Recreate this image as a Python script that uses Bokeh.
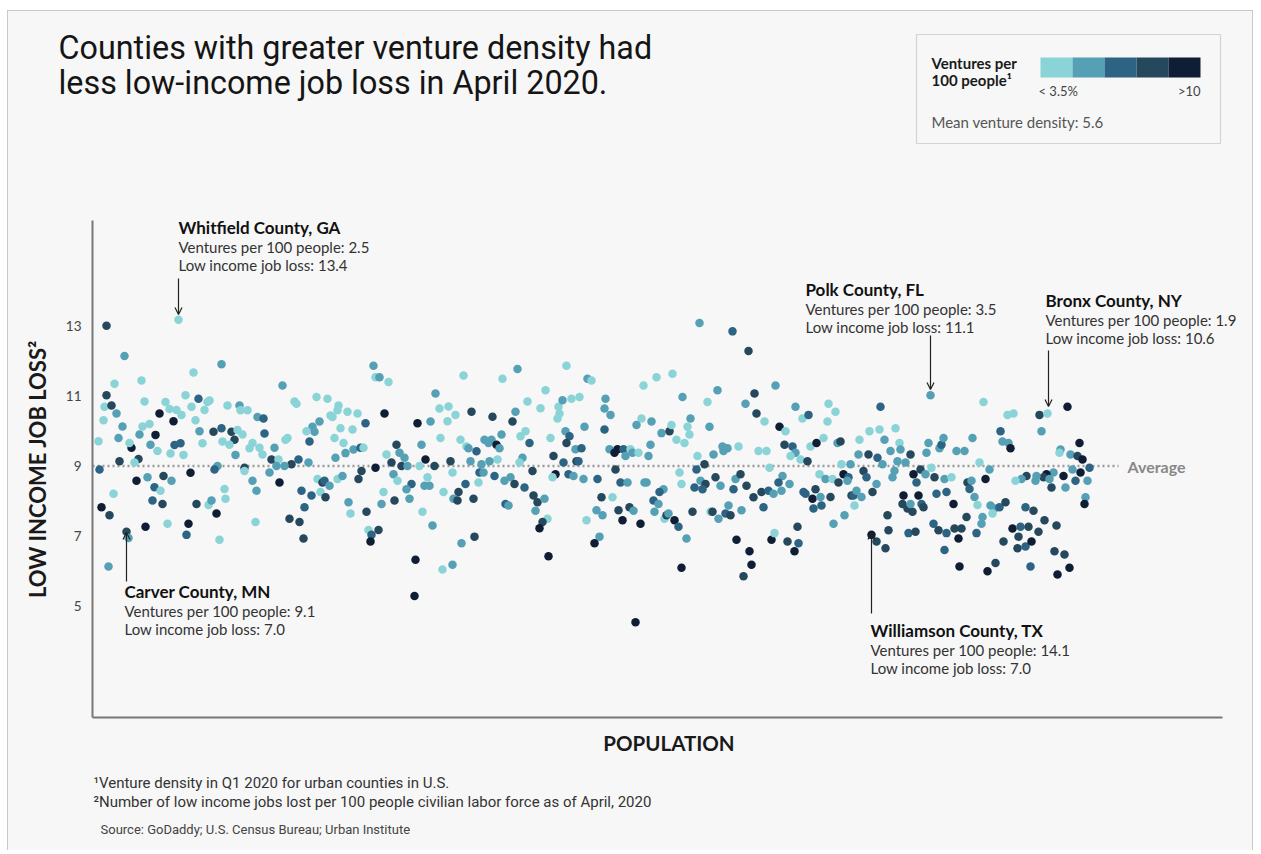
from bokeh.plotting import figure
from bokeh.models import (ColumnDataSource, Range1d, FixedTicker, Label, Arrow,
                          OpenHead, Segment)
from bokeh.layouts import column
from bokeh.embed import file_html
from bokeh.resources import INLINE

# ---------------- data ----------------
# population rank (relative position on the population axis)
pop = [106,178,124,221,193,114,141,106,104,111,116,103,122,98,118,131,129,119,99,138,134,144,139,142,149,155,159,150,157,165,169,173,176,181,185,191,198,195,207,204,209,199,202,174,180,170,183,213,221,231,234,222,229,227,239,240,247,237,242,235,249,257,263,264,252,259,262,244,244,217,214,190,163,171,147,136,154,160,113,152,162,196,208,211,224,225,252,256,101,109,145,167,188,186,216,219,255,126,128,108,
373,375,379,388,282,294,296,316,327,338,337,330,332,347,357,319,312,314,306,309,340,352,365,384,417,430,435,287,285,334,343,274,345,353,360,363,335,271,278,298,291,308,276,284,269,279,375,361,358,386,396,399,404,391,401,407,419,425,421,434,393,397,427,424,429,411,406,409,383,381,394,317,322,324,329,320,325,337,342,301,311,304,348,350,366,422,432,289,299,303,368,371,378,370,415,414,
566,587,591,517,463,502,545,439,448,455,447,471,492,512,515,527,540,558,562,571,579,605,559,557,584,604,604,440,460,466,468,476,484,488,491,496,499,501,520,525,529,522,519,497,489,481,470,450,452,479,483,494,532,504,510,514,524,478,465,458,443,453,457,473,505,508,533,537,544,535,553,550,565,569,566,575,581,563,576,578,555,552,568,573,583,597,601,596,602,586,599,594,547,542,539,548,474,461,452,442,
699,732,748,672,656,643,682,717,707,754,745,756,764,775,610,641,636,651,661,669,671,690,687,689,676,684,709,650,648,609,614,617,623,630,632,625,638,615,697,713,722,723,727,738,758,766,704,696,679,681,620,627,644,646,700,705,702,694,715,720,733,735,740,746,769,612,663,659,653,658,654,629,618,633,622,640,664,666,668,674,678,686,692,710,712,718,725,730,728,741,753,761,768,773,763,736,749,751,743,771,774,681,635,
930,880,795,802,808,828,835,827,779,785,784,792,795,790,800,807,810,816,823,837,840,859,869,879,895,884,899,890,900,858,868,877,897,905,910,926,928,939,941,943,841,850,882,920,931,782,778,789,781,819,825,832,838,843,848,847,863,866,876,872,892,894,913,916,925,934,944,803,805,815,812,813,820,821,830,851,853,856,861,854,844,833,903,902,907,912,910,918,921,923,936,946,887,888,908,915,933,938,946,871,876,885,797,787,798,794,944,
983,1007,1013,1039,1047,1067,1041,1000,1002,1008,1010,972,956,964,979,989,985,1060,1059,1070,1079,1077,1082,1072,1089,1080,1087,1075,1065,1063,1053,1046,1043,1049,1051,1036,1035,1026,1021,1015,951,967,971,969,974,977,953,966,990,994,999,1005,992,982,981,976,954,961,958,959,987,995,1003,1025,1033,1012,1020,1028,1018,1017,1025,1031,1038,1044,1056,1030,1054,1064,1057,1069,1085,1084]

# low income job loss per 100 people
job_loss = [13.0,13.17,12.14,11.9,11.67,11.35,11.44,11.02,10.69,10.73,10.5,10.31,10.13,9.71,9.8,9.52,9.66,9.14,8.9,9.2,9.1,10.84,9.9,10.13,10.2,9.89,10.5,9.61,9.43,10.83,10.63,10.28,10.6,10.46,11.02,10.69,10.92,10.31,10.83,10.6,10.87,9.99,9.65,9.6,9.65,9.36,9.32,9.98,10.08,9.98,9.75,9.7,9.61,10.73,10.73,10.59,10.59,10.03,9.9,9.32,9.51,10.4,10.36,9.93,9.66,9.52,9.33,8.95,8.86,9.0,8.9,8.81,8.72,8.58,8.68,8.58,8.4,8.3,8.21,8.02,7.92,7.92,7.89,8.02,8.35,8.07,8.58,8.3,7.83,7.6,7.27,7.36,7.36,7.04,7.65,6.9,7.41,7.13,6.95,6.14,
11.86,11.53,11.53,11.4,11.3,10.84,10.78,10.97,10.92,10.73,10.59,10.44,10.4,10.55,10.5,10.27,10.12,9.98,9.99,9.7,10.08,10.04,10.22,10.5,10.22,10.27,11.07,9.8,9.75,9.8,9.66,9.52,9.37,9.47,9.52,9.52,9.24,9.19,9.19,9.19,9.05,9.1,9.0,9.0,8.82,8.53,8.95,8.86,8.63,9.33,9.61,9.38,9.24,9.1,9.0,9.0,9.0,9.19,9.61,9.0,8.77,8.58,8.68,8.44,8.44,8.49,8.34,8.07,8.26,7.92,8.02,8.63,8.53,8.58,8.44,8.26,8.11,8.63,8.72,8.3,8.16,7.83,7.97,7.65,7.7,7.7,7.31,7.5,7.41,6.94,7.18,7.04,7.18,6.85,6.33,5.3,
11.86,11.49,11.44,11.77,11.58,11.49,11.16,10.64,10.7,10.46,10.28,10.55,10.41,10.27,10.55,10.84,10.65,10.69,10.88,10.92,10.97,10.92,10.5,10.36,10.12,10.04,10.64,9.8,9.75,9.56,9.51,9.42,9.75,9.66,9.75,9.61,9.51,9.9,9.85,9.99,9.66,9.24,9.1,9.19,9.14,9.05,9.14,9.14,8.82,8.82,8.82,8.72,8.86,8.58,8.68,8.49,8.39,8.53,8.49,8.26,8.26,8.07,8.02,8.07,7.92,7.88,8.16,7.97,8.07,7.73,9.29,9.8,9.99,9.85,9.66,9.48,9.51,9.1,9.14,9.14,8.77,8.68,8.77,8.72,8.63,8.63,8.11,7.74,7.6,7.46,6.99,6.8,7.5,7.41,7.23,6.43,6.99,6.8,6.19,6.05,
13.08,12.84,12.28,11.63,11.53,11.3,10.97,11.16,10.83,11.07,10.78,10.5,10.27,11.3,10.46,10.36,10.17,10.27,9.94,9.99,10.17,10.36,10.12,9.9,9.75,9.66,10.12,9.61,9.29,9.48,9.38,9.48,9.48,9.48,9.38,9.29,9.38,8.9,9.29,9.33,9.56,9.43,9.51,9.56,9.43,9.43,9.05,8.9,8.82,8.49,8.53,8.53,8.53,8.53,8.58,8.49,8.34,8.39,8.68,8.44,8.34,8.63,8.77,8.44,8.95,8.11,8.34,8.26,8.02,7.92,7.7,7.83,7.74,7.73,7.46,7.36,7.5,7.6,7.65,7.46,7.27,6.94,7.7,7.7,7.7,7.5,7.65,7.6,7.88,7.74,8.11,8.26,8.3,8.21,7.83,6.9,6.57,6.19,5.86,6.9,7.09,6.1,4.55,
11.02,10.69,10.69,10.36,10.46,10.78,10.55,10.27,10.12,9.99,9.61,9.56,9.38,9.29,9.19,9.14,9.56,9.66,9.8,9.66,9.7,9.75,9.99,10.04,10.08,9.75,9.66,9.43,9.47,9.33,9.33,9.24,9.14,9.1,9.33,9.38,9.66,9.51,9.61,9.8,9.05,9.05,9.05,8.9,8.95,8.72,8.53,8.49,8.3,8.77,8.63,8.63,8.53,8.77,8.68,8.58,8.86,8.68,8.49,8.26,8.68,8.87,8.77,8.53,8.77,8.68,8.63,8.26,8.21,8.34,8.07,7.79,8.12,7.88,8.12,8.16,8.16,8.3,8.12,7.88,7.6,7.36,8.16,7.92,7.79,7.7,7.92,8.16,7.92,7.83,8.21,8.26,7.6,7.17,7.09,7.13,7.36,7.17,7.09,7.04,6.85,6.66,7.27,6.85,6.8,6.57,6.61,
10.83,10.46,10.5,10.46,10.5,10.69,9.99,9.99,9.7,9.66,9.51,9.8,9.43,9.43,9.1,8.9,8.63,9.47,9.38,9.33,9.66,9.29,9.19,8.9,8.95,8.82,8.58,8.58,8.39,8.72,8.82,8.77,8.68,8.63,8.39,8.72,8.58,8.72,8.63,8.58,8.68,8.53,8.58,8.35,8.12,7.89,7.92,7.55,7.88,7.79,7.83,7.97,7.65,7.55,7.36,7.09,7.22,7.22,6.94,6.14,6.0,6.24,6.85,7.83,7.73,7.22,7.27,7.27,6.99,6.66,6.71,6.85,7.13,7.46,7.31,6.14,6.57,6.48,5.91,6.1,8.11,7.92]

# venture density class (0: <3.5 ... 4: >10)
density_bin = [3,0,1,1,0,0,0,3,0,3,1,0,1,0,1,4,0,3,2,3,0,0,1,0,0,4,4,1,0,0,0,4,0,0,0,0,2,0,0,0,0,1,0,2,2,0,0,3,2,3,3,0,0,0,1,0,0,0,0,1,0,1,2,2,0,0,0,3,0,1,2,4,3,1,1,4,2,0,0,2,3,3,0,1,0,0,1,1,4,3,4,0,4,2,4,0,0,3,1,1,
1,0,1,0,1,0,0,0,0,0,0,0,0,0,0,1,1,1,0,2,0,0,2,4,4,1,1,0,0,0,0,1,1,1,2,0,1,3,0,2,3,1,1,1,1,4,4,3,3,0,3,1,1,3,3,1,0,4,1,3,1,0,0,1,1,2,1,1,0,1,3,0,3,2,1,0,3,0,1,2,2,2,1,0,3,0,1,3,3,3,0,2,3,4,4,4,
0,1,0,1,0,0,0,0,0,0,0,3,3,3,1,0,0,0,1,0,0,1,0,0,1,2,1,0,0,0,1,2,1,1,1,4,1,1,0,0,2,1,0,0,1,1,1,3,0,2,1,2,3,1,1,3,2,0,2,3,0,1,3,3,2,1,3,3,1,1,3,0,1,2,3,1,2,2,3,2,4,0,2,1,1,2,3,1,1,0,1,4,0,3,4,4,3,1,1,0,
1,2,3,0,0,0,1,1,0,3,1,3,0,1,1,0,1,1,1,3,0,1,0,0,0,0,1,1,1,1,4,4,2,0,1,1,0,3,0,1,1,1,1,0,0,0,3,2,0,0,2,1,1,1,1,3,2,2,3,1,2,1,3,3,0,0,1,2,2,1,1,3,3,1,4,4,0,3,1,4,2,1,3,0,3,1,2,3,1,1,3,3,2,1,2,4,4,4,3,4,0,4,4,
1,2,1,0,2,0,0,0,4,0,3,2,1,0,0,3,0,4,0,1,3,0,0,0,0,1,0,1,1,1,3,2,1,1,3,1,1,1,2,1,0,1,1,3,0,1,2,1,1,0,1,0,3,4,2,1,3,2,1,3,1,1,4,2,1,3,1,2,2,3,4,2,1,2,3,3,2,1,1,0,1,1,4,3,3,3,1,4,2,3,2,2,3,3,2,3,2,3,2,4,3,3,3,3,2,4,2,
0,0,0,3,0,4,1,2,1,1,4,1,1,1,0,1,4,1,0,1,4,3,4,1,2,4,1,2,1,4,1,4,3,1,3,1,1,3,1,0,0,3,1,2,1,0,4,3,1,1,2,3,0,1,1,2,3,3,4,4,4,3,3,2,3,4,2,3,3,3,2,4,3,3,3,2,3,3,4,4,1,4]

density_colors = ["#8ad3d7", "#55a0b5", "#2d6483", "#26485c", "#0f1e35"]
density_labels = ["< 3.5%", ">10"]
average_loss = 9.0
mean_density = 5.6

title_lines = ["Counties with greater venture density had",
               "less low-income job loss in April 2020."]

callouts = [
    # name, ventures, loss, text x, text y (page px), arrow x, arrow y0, arrow y1
    ("Whitfield County, GA", "2.5", "13.4", 178, 227, 178, 278, 314),
    ("Carver County, MN", "9.1", "7.0", 124, 591, 126, 581, 532),
    ("Polk County, FL", "3.5", "11.1", 805, 289, 930, 335, 389),
    ("Bronx County, NY", "1.9", "10.6", 1045, 300, 1048, 350, 406),
    ("Williamson County, TX", "14.1", "7.0", 870, 630, 871, 613, 532),
]

footnotes = ["\u00b9Venture density in Q1 2020 for urban counties in U.S.",
             "\u00b2Number of low income jobs lost per 100 people civilian labor force as of April, 2020"]
source_text = "Source: GoDaddy; U.S. Census Bureau; Urban Institute"

BG = "#f7f7f7"
ANN_FONT = "Lato"
TXT_FONT = "Roboto"

# page geometry (page px)
X0, X1 = 8, 1252        # inner content left / right
HEAD_TOP, MAIN_TOP, FOOT_TOP, FOOT_BOT = 11, 200, 760, 850
FL, FT, FR, FB = 92, 220, 1245, 717  # frame left / top / right / bottom
AXIS_END = 1222


def blank_fig(y_top, y_bot):
    f = figure(width=X1 - X0, height=y_bot - y_top, output_backend="svg",
               toolbar_location=None, x_range=Range1d(X0, X1),
               y_range=Range1d(y_bot, y_top), min_border=0,
               x_axis_type=None, y_axis_type=None, title=None, frame_align=False)
    f.background_fill_color = BG
    f.border_fill_color = BG
    f.outline_line_color = None
    f.xgrid.visible = False
    f.ygrid.visible = False
    return f


# ---------------- header ----------------
head = blank_fig(HEAD_TOP, MAIN_TOP)
for i, t in enumerate(title_lines):
    head.add_layout(Label(x=58, y=47 + 35 * i, text=t, text_font=TXT_FONT,
                          text_font_size="32.3px", text_color="#151515",
                          text_baseline="middle"))
head.quad(left=[916], right=[1220], top=[34], bottom=[143], fill_color=BG,
          line_color="#d4d4d4", line_width=1.2)
seg_w = 32
head.quad(left=[1040 + i * seg_w for i in range(len(density_colors))],
          right=[1040 + (i + 1) * seg_w for i in range(len(density_colors))],
          top=57, bottom=77, fill_color=density_colors, line_color=None)
head.add_layout(Label(x=931, y=62, text="Ventures per", text_font=ANN_FONT,
                      text_font_style="bold", text_font_size="15px",
                      text_color="#1a1a1a", text_baseline="middle"))
head.add_layout(Label(x=931, y=79, text="100 people\u00b9", text_font=ANN_FONT,
                      text_font_style="bold", text_font_size="15px",
                      text_color="#1a1a1a", text_baseline="middle"))
head.add_layout(Label(x=1038, y=90, text=density_labels[0], text_font=ANN_FONT,
                      text_font_size="13px", text_color="#444444",
                      text_baseline="middle"))
head.add_layout(Label(x=1200, y=90, text=density_labels[1], text_font=ANN_FONT,
                      text_font_size="13px", text_color="#444444",
                      text_baseline="middle", text_align="right"))
head.add_layout(Label(x=931, y=121, text="Mean venture density: %.1f" % mean_density,
                      text_font=ANN_FONT, text_font_size="15px", text_color="#555555",
                      text_baseline="middle"))

# ---------------- main chart ----------------
p = figure(width=X1 - X0, height=FOOT_TOP - MAIN_TOP, output_backend="svg",
           toolbar_location=None,
           x_range=Range1d(FL, FR), y_range=Range1d(1.835, 16.0),
           min_border_left=FL - X0, min_border_right=X1 - FR,
           min_border_top=FT - MAIN_TOP, min_border_bottom=FOOT_TOP - FB,
           title=None, frame_align=False)
p.background_fill_color = BG
p.border_fill_color = BG
p.outline_line_color = None
p.xgrid.visible = False
p.ygrid.visible = False

yax = p.yaxis[0]
yax.ticker = FixedTicker(ticks=[5, 7, 9, 11, 13])
yax.major_tick_line_color = None
yax.minor_tick_line_color = None
yax.axis_line_color = "#777777"
yax.axis_line_width = 2
yax.major_label_text_font = ANN_FONT
yax.major_label_text_font_size = "13.5px"
yax.major_label_text_color = "#444444"
yax.major_label_standoff = 5
yax.axis_label = "LOW INCOME JOB LOSS\u00b2"
yax.axis_label_text_font = ANN_FONT
yax.axis_label_text_font_style = "bold"
yax.axis_label_text_font_size = "22px"
yax.axis_label_text_color = "#1a1a1a"
yax.axis_label_standoff = 12

xax = p.xaxis[0]
xax.bounds = (FL, AXIS_END)
xax.ticker = FixedTicker(ticks=[])
xax.major_tick_line_color = None
xax.minor_tick_line_color = None
xax.major_label_text_font_size = "0px"
xax.axis_line_color = "#777777"
xax.axis_line_width = 2
xax.axis_label = "POPULATION"
xax.axis_label_text_font = ANN_FONT
xax.axis_label_text_font_style = "bold"
xax.axis_label_text_font_size = "20.5px"
xax.axis_label_text_color = "#1a1a1a"
xax.axis_label_standoff = 13


def sx(X):
    return X - FL


def sy(Y):
    return FB - Y


# average line
avg_src = ColumnDataSource(dict(x0=[FL], x1=[1118], y0=[average_loss], y1=[average_loss]))
p.add_glyph(avg_src, Segment(x0="x0", y0="y0", x1="x1", y1="y1",
                             line_color="#9a9a9a", line_width=2.5, line_dash="2 3"))
p.add_layout(Label(x=1127, y=average_loss, text="Average", text_font=ANN_FONT,
                   text_font_style="bold", text_font_size="16px", text_color="#888888",
                   text_baseline="middle"))

# points
colors = [density_colors[b] for b in density_bin]
src = ColumnDataSource(dict(pop=pop, loss=job_loss, color=colors))
p.scatter(x="pop", y="loss", source=src, size=8.5, fill_color="color", line_color=None)

# callouts
for name, vent, loss, tx, ty, ax, ay0, ay1 in callouts:
    p.add_layout(Label(x=sx(tx), y=sy(ty), x_units="screen", y_units="screen", text=name,
                       text_font=ANN_FONT, text_font_style="bold", text_font_size="17px",
                       text_color="#111111", text_baseline="middle"))
    p.add_layout(Label(x=sx(tx), y=sy(ty + 19), x_units="screen", y_units="screen",
                       text="Ventures per 100 people: " + vent,
                       text_font=ANN_FONT, text_font_size="15px",
                       text_color="#333333", text_baseline="middle"))
    p.add_layout(Label(x=sx(tx), y=sy(ty + 37), x_units="screen", y_units="screen",
                       text="Low income job loss: " + loss,
                       text_font=ANN_FONT, text_font_size="15px",
                       text_color="#333333", text_baseline="middle"))
    p.add_layout(Arrow(x_start=sx(ax), y_start=sy(ay0), x_end=sx(ax), y_end=sy(ay1),
                       start_units="screen", end_units="screen",
                       line_color="#222222", line_width=1.2,
                       end=OpenHead(size=7, line_color="#222222", line_width=1.2)))

# ---------------- footer ----------------
foot = blank_fig(FOOT_TOP, FOOT_BOT)
for i, t in enumerate(footnotes):
    foot.add_layout(Label(x=93, y=782 + 19 * i, text=t, text_font=TXT_FONT,
                          text_font_size="15px", text_color="#333333",
                          text_baseline="middle"))
foot.add_layout(Label(x=100, y=829, text=source_text, text_font=TXT_FONT,
                      text_font_size="13px", text_color="#444444",
                      text_baseline="middle"))

layout = column(head, p, foot, spacing=0, margin=(10, 0, 0, 7),
                styles={"border-top": "1.5px solid #cdc8c1",
                        "border-left": "1.5px solid #cdc8c1",
                        "border-right": "1.5px solid #cdc8c1",
                        "background-color": BG})

open("out.html", "w").write(file_html(layout, INLINE))
